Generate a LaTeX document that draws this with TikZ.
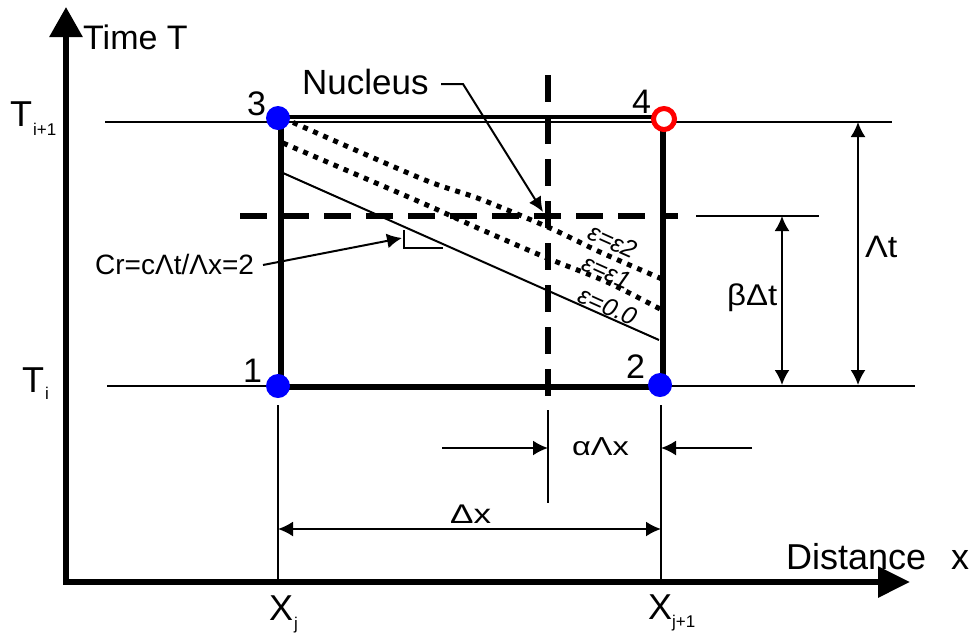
\documentclass[tikz,border=0pt]{standalone}
\usepackage{fontspec}
\usepackage{graphicx}
\setmainfont{Liberation Sans}
\usetikzlibrary{arrows.meta}
\begin{document}
\begin{tikzpicture}[x=1pt,y=-1pt]
\useasboundingbox[fill=white] (0,0) rectangle (974,633);
\tikzset{
 thinln/.style={line width=2pt},
 thickln/.style={line width=6pt},
 axisln/.style={line width=6pt,{Triangle[length=30pt,width=32pt]}-{Triangle[length=32pt,width=30pt]}},
 dimln/.style={line width=2pt,{Latex[length=15pt,width=15pt]}-{Latex[length=15pt,width=15pt]}},
 onearrow/.style={line width=2pt,-{Latex[length=15pt,width=15pt]}},
 dashln/.style={line width=6pt,dash pattern=on 27pt off 15pt},
 dotln/.style={line width=5pt,dash pattern=on 5pt off 6pt},
 bluedot/.style={circle,fill=blue,minimum size=24pt,inner sep=0pt},
 reddot/.style={circle,draw=red,fill=white,line width=5pt,minimum size=21pt,inner sep=0pt},
 lbl/.style={inner sep=0pt,anchor=base west},
 big/.style={font=\fontsize{34}{40}\selectfont},
 sub/.style={font=\fontsize{17}{20}\selectfont},
 eps/.style={inner sep=0pt,rotate=-24,font=\fontsize{25}{27}\selectfont\itshape},
}
% key coordinates
\coordinate (O) at (66,582);
\coordinate (ytip) at (66,7);
\coordinate (xtip) at (910,582);
\coordinate (c1) at (278,386);
\coordinate (c2) at (660,385);
\coordinate (c3) at (278,118);
\coordinate (c4) at (664,119);
% axes
\draw[axisln] (ytip) -- (O) -- (xtip);
% grid lines
\coordinate (tl) at (105,122); \coordinate (tr) at (892,122);
\coordinate (bl) at (107,386); \coordinate (br) at (915,386);
\draw[thinln] (tl) -- (tr);
\draw[thinln] (bl) -- (br);
% box
\coordinate (topA) at (281,117); \coordinate (topB) at (652,117);
\draw[line width=4pt] (topA) -- (topB);
\coordinate (lA) at (281,118); \coordinate (lB) at (281,386);
\draw[thickln] (lA) -- (lB);
\coordinate (rA) at (663,119); \coordinate (rB) at (663,386);
\draw[thickln] (rA) -- (rB);
\coordinate (bA) at (278,386.5); \coordinate (bB) at (660,386.5);
\draw[thickln] (bA) -- (bB);
% dashed nucleus lines
\coordinate (hA) at (240,216); \coordinate (hB) at (678,216);
\draw[dashln] (hA) -- (hB);
\coordinate (vA) at (548,75); \coordinate (vB) at (548,400);
\draw[dashln] (vA) -- (vB);
\coordinate (vC) at (548,410); \coordinate (vD) at (548,503);
\draw[thinln] (vC) -- (vD);
\coordinate (bt1) at (696,216); \coordinate (bt2) at (819,216);
\draw[thinln] (bt1) -- (bt2);
% bottom verticals
\coordinate (xj1) at (278,405); \coordinate (xj2) at (278,582);
\coordinate (xk1) at (661,405); \coordinate (xk2) at (661,582);
\draw[thinln] (xj1) -- (xj2);
\draw[thinln] (xk1) -- (xk2);
% characteristic lines
\coordinate (s1) at (283,173); \coordinate (s2) at (659,340);
\draw[thinln] (s1) -- (s2);
\draw[dotln] plot[smooth] coordinates {(283,118) (420,178) (480,199) (550,228) (600,252) (662,279)};
\draw[dotln] plot[smooth] coordinates {(283,143) (420,202) (480,229) (547,258) (607,282) (662,310)};
% right angle mark
\coordinate (ra1) at (404,230); \coordinate (ra2) at (404,248); \coordinate (ra3) at (443,248);
\draw[thinln] (ra1) -- (ra2) -- (ra3);
% dimension arrows
\coordinate (a1) at (442,448); \coordinate (a2) at (548,448);
\coordinate (a3) at (752,448); \coordinate (a4) at (661,448);
\draw[onearrow] (a1) -- (a2);
\draw[onearrow] (a3) -- (a4);
\coordinate (d1) at (278,529); \coordinate (d2) at (661,529);
\draw[dimln] (d1) -- (d2);
\coordinate (b1) at (782,216); \coordinate (b2) at (782,385);
\draw[dimln] (b1) -- (b2);
\coordinate (t1) at (858,122); \coordinate (t2) at (858,385);
\draw[dimln] (t1) -- (t2);
% points
\node[bluedot] (p3) at (c3) {};
\node[bluedot] (p1) at (c1) {};
\node[bluedot] (p2) at (c2) {};
\node[reddot] (p4) at (c4) {};
% labels
\node[lbl,big] (timeT) at (83,49) {Time T};
\node[lbl,font=\fontsize{35}{40}\selectfont] (nuc) at (302,94) {Nucleus};
\coordinate (n1) at (441,84); \coordinate (n2) at (463,84); \coordinate (n3) at (543,212);
\draw[thinln,-{Latex[length=15pt,width=14pt]}] (n1) -- (n2) -- (n3);
\node[lbl,font=\fontsize{28}{32}\selectfont] (cr) at (95,274) {Cr=cΛt/Λx=2};
\coordinate (cra) at (263,265); \coordinate (crb) at (402,238);
\draw[onearrow] (cra) -- (crb);
\node[lbl,big] (l3) at (247,115) {3};
\node[lbl,big] (l4) at (632,113) {4};
\node[lbl,big] (l1) at (243,382) {1};
\node[lbl,big] (l2) at (626,378) {2};
\node[lbl,font=\fontsize{36}{40}\selectfont] (Ti1) at (10,126) {T};
\node[lbl,sub] (Ti1s) at (33,135) {i+1};
\node[lbl,font=\fontsize{36}{40}\selectfont] (Ti) at (22,392) {T};
\node[lbl,sub] (Tis) at (45,399) {i};
\node[lbl,font=\fontsize{30}{34}\selectfont] (bdt) at (727,305) {\scalebox{1.1}[1]{βΔt}};
\node[lbl,font=\fontsize{31}{34}\selectfont] (ldt) at (865,257) {\scalebox{1.1}[1]{Λt}};
\node[lbl,font=\fontsize{26}{29}\selectfont] (adx) at (572,455) {\scalebox{1.25}[1]{αΛx}};
\node[lbl,font=\fontsize{27}{30}\selectfont] (dx) at (450,523) {\scalebox{1.3}[1]{Δx}};
\node[lbl,font=\fontsize{36}{40}\selectfont] (dist) at (786,569) {Distance};
\node[lbl,font=\fontsize{36}{40}\selectfont] (distx) at (951,569) {x};
\node[lbl,font=\fontsize{36}{40}\selectfont] (Xj) at (269,620) {X};
\node[lbl,sub] (Xjs) at (294,629) {j};
\node[lbl,font=\fontsize{36}{40}\selectfont] (Xk) at (648,619) {X};
\node[lbl,sub] (Xks) at (672,627) {j+1};
\node[eps] (e2) at (613,241) {ε=ε2};
\node[eps] (e1) at (607,272) {ε=ε1};
\node[eps] (e0) at (608,306) {ε=0.0};
\end{tikzpicture}
\end{document}
